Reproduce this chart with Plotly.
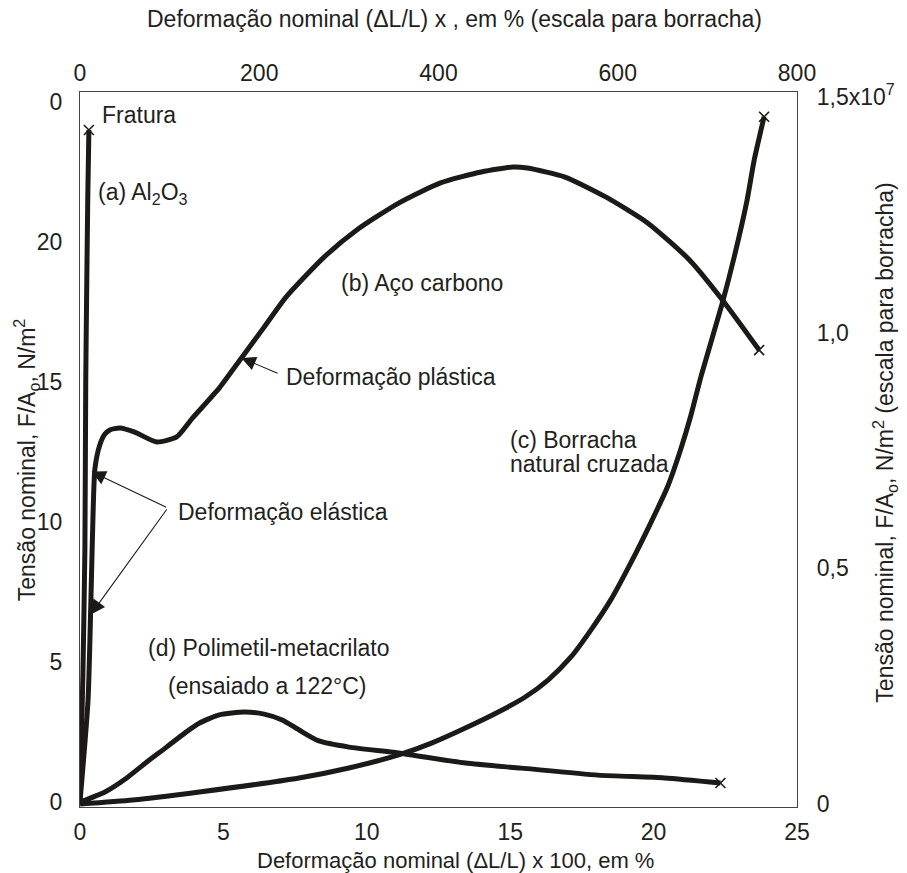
import plotly.graph_objects as go

# ---------------- data ----------------
# bottom axis: strain x100 (%), left axis: stress
al2o3_x = [0, 0.10, 0.17, 0.20, 0.23, 0.27, 0.31]
al2o3_y = [0, 4.5, 9.0, 15.0, 18.0, 21.5, 24.0]

steel_x = [0, 0.28, 0.38, 0.45, 0.52, 0.69, 0.87, 1.04, 1.39, 1.91, 2.67, 3.37, 3.92,
           4.86, 5.63, 6.42, 7.19, 8.51, 9.65, 11.11, 12.57, 13.99, 15.10, 15.6, 16.91,
           18.33, 19.79, 21.25, 22.4, 23.68]
steel_y = [0, 3.64, 7.2, 10.1, 11.9, 12.75, 13.14, 13.29, 13.36, 13.21, 12.86, 13.04, 13.71,
           14.79, 15.86, 16.96, 18.04, 19.46, 20.43, 21.39, 22.11, 22.5, 22.68, 22.64,
           22.32, 21.61, 20.68, 19.36, 17.93, 16.14]

pmma_x = [0, 0.87, 1.63, 2.33, 3.02, 3.65, 4.17, 4.86, 5.73, 6.42, 7.05, 7.64, 8.33, 9.38,
          11.11, 13.44, 15.38, 18.06, 20.38, 22.33]
pmma_y = [0, 0.36, 0.86, 1.43, 1.96, 2.46, 2.82, 3.11, 3.21, 3.14, 2.93, 2.57, 2.18, 1.96,
          1.75, 1.39, 1.21, 0.96, 0.86, 0.68]

# top axis: strain (%) for rubber, right axis: stress (N/m^2)
rubber_x = [0, 58.9, 133.3, 244.4, 300, 355.6, 392.2, 430, 466.7, 496.7, 522.2, 547.8, 570,
            592.2, 614.4, 636.7, 655.6, 670, 681.1, 693.3, 716.7, 730, 744.4, 752.2, 763.3]
rubber_y = [0, 0.0085e7, 0.0255e7, 0.0552e7, 0.0764e7, 0.104e7, 0.129e7, 0.161e7, 0.195e7,
            0.227e7, 0.263e7, 0.312e7, 0.369e7, 0.433e7, 0.511e7, 0.596e7, 0.673e7, 0.751e7,
            0.821e7, 0.910e7, 1.063e7, 1.161e7, 1.282e7, 1.366e7, 1.458e7]

bottom_ticks = [0, 5, 10, 15, 20, 25]
bottom_text = ["0", "5", "10", "15", "20", "25"]
top_ticks = [0, 200, 400, 600, 800]
top_text = ["0", "200", "400", "600", "800"]
left_ticks = [0, 5, 10, 15, 20, 25]
left_text = ["0", "5", "10", "15", "20", "0"]
right_ticks = [0, 0.5e7, 1.0e7, 1.5e7]
right_text = ["0", "0,5", "1,0", "1,5x10<sup>7</sup>"]

# ---------------- figure ----------------
W, H = 907, 873
ML, MR, MT, MB = 80, 107, 92, 66
FONT = "Liberation Sans, Arial, sans-serif"
INK = "#1c1a19"
TXT = "#231f20"
FS = 23
LW = 5

fig = go.Figure()

def curve(x, y, xa="x", ya="y"):
    fig.add_trace(go.Scatter(x=x, y=y, mode="lines", xaxis=xa, yaxis=ya,
                             line=dict(color=INK, width=LW, shape="spline", smoothing=0.6),
                             showlegend=False, hoverinfo="skip"))
    fig.add_trace(go.Scatter(x=[x[-1]], y=[y[-1]], mode="markers", xaxis=xa, yaxis=ya,
                             marker=dict(symbol="x-thin", size=10,
                                         line=dict(color=INK, width=1.6)),
                             showlegend=False, hoverinfo="skip"))

curve(al2o3_x, al2o3_y)
curve(steel_x, steel_y)
curve(pmma_x, pmma_y)
curve(rubber_x, rubber_y, "x2", "y2")

def px(xp):
    return (xp - ML) / (W - ML - MR)

def py(yp):
    return (H - MB - yp) / (H - MT - MB)

def label(text, xp, yp, size=FS, anchor="left", angle=0):
    fig.add_annotation(text=text, x=px(xp), y=py(yp), xref="paper", yref="paper",
                       xanchor=anchor, yanchor="middle", showarrow=False, textangle=angle,
                       font=dict(family=FONT, size=size, color=TXT))

label("Fratura", 100, 115)
label("(a) Al<sub>2</sub>O<sub>3</sub>", 96, 193)
label("(b) Aço carbono", 340, 283)
label("Deformação plástica", 285, 377)
label("(c) Borracha", 510, 440)
label("natural cruzada", 510, 464)
label("Deformação elástica", 176, 512)
label("(d) Polimetil-metacrilato", 146, 648)
label("(ensaiado a 122°C)", 166, 686)

# titles
label("Deformação nominal (ΔL/L) x 100, em %", 457, 860, size=22, anchor="center")
label("Deformação nominal (ΔL/L) x , em % (escala para borracha)", 456, 19, anchor="center")
label("Tensão nominal, F/A<sub>o</sub>, N/m<sup>2</sup>", 26, 460, anchor="center", angle=-90)
label("Tensão nominal, F/A<sub>o</sub>, N/m<sup>2</sup> (escala para borracha)", 888, 443,
      anchor="center", angle=-90)

# arrows (tip on curve, tail at leader start)
def arrow(x, y, ax, ay):
    fig.add_annotation(x=x, y=y, ax=ax, ay=ay, xref="x", yref="y", axref="x", ayref="y",
                       text="", showarrow=True, arrowhead=2,
                       arrowsize=2.6, arrowwidth=1.1, arrowcolor=INK, standoff=0)

arrow(5.63, 15.86, 6.94, 15.29)          # plastic
arrow(0.40, 11.8, 3.06, 10.5)            # elastic (upper)
arrow(0.38, 6.7, 3.06, 10.5)             # elastic (lower)

axis_font = dict(family=FONT, size=FS, color=TXT)
common = dict(showgrid=False, zeroline=False, showline=True, linecolor="#444",
              linewidth=1.3, ticks="", tickfont=axis_font, tickmode="array")

fig.update_layout(
    width=W, height=H,
    margin=dict(l=ML, r=MR, t=MT, b=MB, pad=0),
    paper_bgcolor="white", plot_bgcolor="white",
    xaxis=dict(range=[0, 25], tickvals=bottom_ticks, ticktext=bottom_text,
               ticklabelstandoff=4, **common),
    xaxis2=dict(range=[0, 800], overlaying="x", side="top", tickvals=top_ticks,
                ticktext=top_text, ticklabelstandoff=1, **common),
    yaxis=dict(range=[-5 / 28, 25 + 10 / 28], tickvals=left_ticks, ticktext=left_text,
               ticklabelstandoff=12, **common),
    yaxis2=dict(range=[-0.0064e7, 1.5106e7], overlaying="y", side="right",
                tickvals=right_ticks, ticktext=right_text, ticklabelstandoff=14, **common),
)

fig.write_html("out.html", config={"displayModeBar": False},
               post_script="document.body.style.margin='0px';")
